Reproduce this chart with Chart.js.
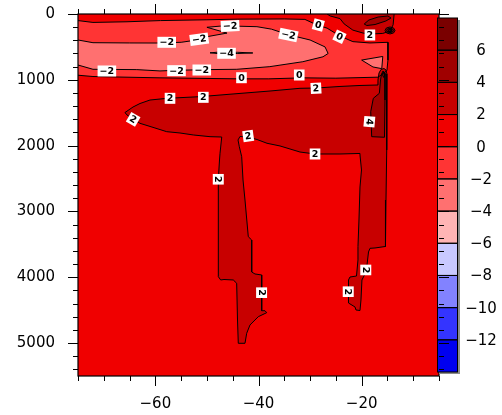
<!DOCTYPE html>
<html>
<head>
<meta charset="utf-8">
<script src="https://cdn.jsdelivr.net/npm/chart.js@4/dist/chart.umd.min.js"></script>
<style>
  html, body { margin: 0; padding: 0; background: #fff; }
  canvas { display: block; }
</style>
</head>
<body>
<canvas id="c" width="502" height="415" style="width:502px;height:415px"></canvas>
<script>
// Contour levels and their shading, colour bar from top (>6) to bottom (<-12)
const levels = [6, 4, 2, 0, -2, -4, -6, -8, -10, -12];
const levelColors = ['#7a0000', '#a00000', '#c80000', '#f00000', '#ff3434', '#ff7070',
                     '#ffb4b4', '#c8c8ff', '#8282ff', '#3434ff', '#0000f0'];

// Axis ticks
const xTickValues = [-60, -40, -20];
const yTickValues = [0, 1000, 2000, 3000, 4000, 5000];

// Contour polygons as [longitude, depth (m)]
const zeroBand = [[-76,100],[-75,100],[-72.1,128],[-65.5,118],[-59,100],[-50,88],[-44,78],[-35,75],[-31,82],
  [-29.4,140],[-28.5,170],[-26.7,215],[-24.2,335],[-21.7,420],[-18.4,440],[-14.9,430],[-14.9,700],
  [-15.1,860],[-16.8,960],[-25,975],[-31.4,970],[-38,985],[-44,985],[-59.1,970],[-72.1,950],[-75,930],[-76,925]];

const minusTwoCore = [[-76,395],[-75,395],[-72.1,436],[-65,440],[-59.7,441],[-55,430],[-51.5,390],[-50,345],
  [-46.1,290],[-50,202],[-47.1,182],[-45.5,182],[-40.3,193],[-37.5,230],[-34.2,315],[-30,395],[-27.1,500],
  [-26.5,600],[-27.5,650],[-31.4,725],[-37.8,800],[-44.2,840],[-50,845],[-55.8,855],[-59.1,865],
  [-63.6,845],[-72.1,840],[-75,775],[-76,770]];

const minusFourSliver = [[-49.4,590],[-47.5,578],[-44,582],[-41.1,592],[-44,600],[-47.5,604]];

const minusTwoEast = [[-20.0,700],[-15.9,645],[-16.1,830],[-17.8,805]];

const twoNorthEast = [[-26.7,-30],[-26.7,0],[-26.1,30],[-24.2,70],[-23.4,150],[-21.7,245],[-19.7,290],
  [-18.4,305],[-15.9,295],[-14.5,260],[-13.9,165],[-13.7,0],[-13.7,-30]];

const fourNorthEast = [[-19.5,152],[-18.6,91],[-16.8,46],[-14.9,30],[-14.3,61],[-15.3,106],[-17.4,160],[-19.0,175]];

const blobOuter = [[-15.47,250],[-15.19,212],[-14.5,197],[-13.81,212],[-13.53,250],[-13.81,288],[-14.5,303],[-15.19,288]];
const blobInner = [[-15.18,250],[-14.98,227],[-14.5,217],[-14.02,227],[-13.82,250],[-14.02,273],[-14.5,283],[-14.98,273]];
const blobCore = [[-14.85,250],[-14.75,237],[-14.5,232],[-14.25,237],[-14.15,250],[-14.25,263],[-14.5,268],[-14.75,263]];

const twoMain = [[-65.89,1497],[-64.33,1413],[-62.98,1360],[-61.04,1307],[-57.74,1281],[-51.34,1256],
  [-44.94,1215],[-37.77,1170],[-31.95,1129],[-28.65,1124],[-24.2,1101],[-20.32,1086],[-17.02,1079],
  [-16.83,1003],[-16.63,896],[-16.25,843],[-15.67,828],[-15.28,851],[-15.09,912],[-15.09,1307],
  [-15.18,2066],[-15.28,2826],[-15.38,3532],[-17.41,3555],[-18.38,3560],[-18.67,3616],[-18.96,3813],
  [-19.16,3920],[-19.94,4041],[-20.13,4345],[-20.32,4505],[-21.1,4497],[-21.29,4451],[-22.55,4391],
  [-22.55,4041],[-22.26,3996],[-21.0,3981],[-20.71,3737],[-20.71,3532],[-20.52,3130],[-20.32,2628],
  [-20.03,2370],[-20.32,2142],[-20.32,2119],[-24.2,2127],[-29.04,2127],[-31.95,2097],[-35.83,2005],
  [-38.35,1964],[-40.29,1907],[-42.04,1869],[-43.59,1861],[-43.97,1914],[-43.72,2016],[-43.26,2168],
  [-43.0,2522],[-42.62,2826],[-41.98,3383],[-41.32,3434],[-41.32,3920],[-40.68,3950],[-39.38,3965],
  [-39.38,4508],[-38.74,4508],[-38.41,4538],[-40.04,4599],[-41.65,4725],[-42.29,4851],[-42.62,5003],
  [-43.92,5003],[-44.07,4649],[-44.23,4091],[-44.89,4041],[-46.69,4034],[-47.33,4041],[-47.79,3991],
  [-47.79,3434],[-47.79,2826],[-47.79,2507],[-47.56,2218],[-47.46,2116],[-47.13,1869],[-49.4,1864],
  [-52.64,1838],[-55.22,1808],[-57.8,1788],[-60.07,1732],[-62.98,1661],[-64.33,1595],[-65.5,1534]];

const fourColumn = [[-15.86,866],[-15.47,904],[-15.47,1307],[-15.57,1873],[-18.05,1864],[-18.24,1484],
  [-17.74,1281],[-16.57,1205],[-16.34,1003],[-16.14,912]];

const sixColumn = [[-15.9,895],[-15.62,885],[-15.55,925],[-15.7,965],[-15.92,935]];

// Shaded regions, drawn outermost first; "base" is the lower bounding level
const regions = [
  { pts: zeroBand, base: -2 },
  { pts: minusTwoCore, base: -4 },
  { pts: minusFourSliver, base: -6 },
  { pts: minusTwoEast, base: -4 },
  { pts: twoNorthEast, base: 2 },
  { pts: fourNorthEast, base: 4 },
  { pts: blobOuter, base: 4 },
  { pts: blobInner, base: 6 },
  { pts: blobCore, base: 6 },
  { pts: twoMain, base: 2 },
  { pts: fourColumn, base: 4 },
  { pts: sixColumn, base: 6 }
];

// Contour labels
const labelLon   = [-45.5, -57.8, -51.5, -46.2, -34.2, -28.4, -24.3, -18.4, -69.4, -55.9, -51.0, -43.3, -32.1,
                    -28.85, -57.16, -50.7, -64.3, -18.5, -42.0, -29.04, -47.8, -39.4, -19.2, -22.6];
const labelDepth = [182, 430, 384, 597, 319, 167, 345, 319, 866, 861, 851, 968, 927,
                    1129, 1281, 1266, 1600, 1636, 1854, 2127, 2511, 4234, 3889, 4219];
const labelText  = ['-2', '-2', '-2', '-4', '-2', '0', '0', '2', '-2', '-2', '-2', '0', '0',
                    '2', '2', '2', '2', '4', '2', '2', '2', '2', '2', '2'];
const labelAngle = [-3, 0, -8, 0, 12, 15, 25, 0, 0, 0, 0, 0, 0,
                    -3, 0, 0, 30, 95, -8, 0, 90, 90, 90, 90];

const MINUS = '\u2212';
const fmt = v => (Number(v) < 0 ? MINUS + Math.abs(v) : String(v));
const shadeFor = base => levelColors[levels.indexOf(base)];
const AXIS_FONT = { family: 'DejaVu Sans', size: 15 };

const shading = {
  id: 'shading',
  beforeDatasetsDraw(chart) {
    const { ctx, chartArea: a } = chart;
    ctx.save();
    ctx.beginPath();
    ctx.rect(a.left, a.top, a.width, a.height);
    ctx.clip();
    ctx.fillStyle = shadeFor(0);
    ctx.fillRect(a.left, a.top, a.width, a.height);
    chart.data.datasets.forEach((ds, i) => {
      const pts = chart.getDatasetMeta(i).data;
      ctx.beginPath();
      pts.forEach((p, j) => (j ? ctx.lineTo(p.x, p.y) : ctx.moveTo(p.x, p.y)));
      ctx.closePath();
      ctx.fillStyle = ds.shade;
      ctx.fill();
    });
    ctx.restore();
  }
};

const contourLabels = {
  id: 'contourLabels',
  afterDatasetsDraw(chart) {
    const { ctx, scales: { x, y } } = chart;
    ctx.save();
    ctx.font = 'bold 9.5px "DejaVu Sans"';
    ctx.textAlign = 'center';
    ctx.textBaseline = 'middle';
    labelText.forEach((t, i) => {
      const s = fmt(t);
      const px = x.getPixelForValue(labelLon[i]);
      const py = y.getPixelForValue(labelDepth[i]);
      const w = ctx.measureText(s).width + 4;
      const h = 11;
      ctx.save();
      ctx.translate(px, py);
      ctx.rotate(labelAngle[i] * Math.PI / 180);
      ctx.fillStyle = '#fff';
      ctx.fillRect(-w / 2, -h / 2, w, h);
      ctx.fillStyle = '#000';
      ctx.fillText(s, 0, 0.5);
      ctx.restore();
    });
    ctx.restore();
  }
};

const frameAndBar = {
  id: 'frameAndBar',
  afterDraw(chart) {
    const { ctx, chartArea: a, scales: { x, y } } = chart;
    ctx.save();
    // plot frame
    ctx.strokeStyle = '#000';
    ctx.lineWidth = 1.2;
    ctx.strokeRect(a.left, a.top, a.right - a.left, a.bottom - a.top);

    // colour bar
    const bx = 437, by = 18, bw = 21, bh = 354;
    const n = levelColors.length, cell = bh / n;
    ctx.fillStyle = '#8c8c8c';
    ctx.fillRect(bx + 2, by + 2, bw, bh);
    levelColors.forEach((c, i) => {
      ctx.fillStyle = c;
      ctx.fillRect(bx, by + i * cell, bw, cell);
    });
    ctx.lineWidth = 1;
    levelColors.forEach((c, i) => {
      ctx.strokeRect(bx + 0.5, by + i * cell, bw - 1, cell);
    });
    ctx.fillStyle = '#000';
    ctx.font = '15px "DejaVu Sans"';
    ctx.textAlign = 'center';
    ctx.textBaseline = 'middle';
    levels.forEach((v, i) => {
      ctx.fillText(fmt(v), 481, by + (i + 1) * cell + 1);
    });

    // tick marks on all four sides
    ctx.lineWidth = 1;
    ctx.beginPath();
    for (let v = -75; v <= -5; v += 5) {
      const px = Math.round(x.getPixelForValue(v)) + 0.5;
      const len = xTickValues.includes(v) ? 10 : 5;
      ctx.moveTo(px, a.bottom); ctx.lineTo(px, a.bottom + len);
      ctx.moveTo(px, a.top); ctx.lineTo(px, a.top - len);
    }
    for (let v = 0; v <= 5400; v += 200) {
      const py = Math.round(y.getPixelForValue(v)) + 0.5;
      const len = yTickValues.includes(v) ? 10 : 5;
      ctx.moveTo(a.left, py); ctx.lineTo(a.left - len, py);
      ctx.moveTo(a.right, py); ctx.lineTo(a.right + len, py);
    }
    ctx.stroke();
    ctx.restore();
  }
};

const datasets = regions.map(r => ({
  data: r.pts.concat([r.pts[0]]).map(([lon, depth]) => ({ x: lon, y: depth })),
  shade: shadeFor(r.base),
  showLine: true,
  fill: false,
  borderColor: '#000',
  borderWidth: 1,
  pointRadius: 0,
  pointHitRadius: 0,
  tension: 0
}));

new Chart(document.getElementById('c'), {
  type: 'scatter',
  data: { datasets },
  options: {
    responsive: false,
    animation: false,
    events: [],
    layout: { padding: { left: 0, top: 14, right: 63, bottom: 0 } },
    plugins: { legend: { display: false }, tooltip: { enabled: false } },
    scales: {
      x: {
        type: 'linear', min: -75, max: -5,
        afterFit: s => { s.height = 39; s.paddingLeft = 0; s.paddingRight = 0; },
        afterBuildTicks: s => { s.ticks = xTickValues.map(v => ({ value: v })); },
        grid: { display: false, drawTicks: false },
        border: { display: false },
        ticks: { callback: fmt, font: AXIS_FONT, color: '#000', padding: 19, maxRotation: 0, autoSkip: false }
      },
      y: {
        type: 'linear', min: 0, max: 5500, reverse: true,
        afterFit: s => { s.width = 78; s.paddingTop = 0; s.paddingBottom = 0; },
        afterBuildTicks: s => { s.ticks = yTickValues.map(v => ({ value: v })); },
        grid: { display: false, drawTicks: false },
        border: { display: false },
        ticks: { callback: fmt, font: AXIS_FONT, color: '#000', padding: 23, autoSkip: false }
      }
    }
  },
  plugins: [shading, contourLabels, frameAndBar]
});
</script>
</body>
</html>
